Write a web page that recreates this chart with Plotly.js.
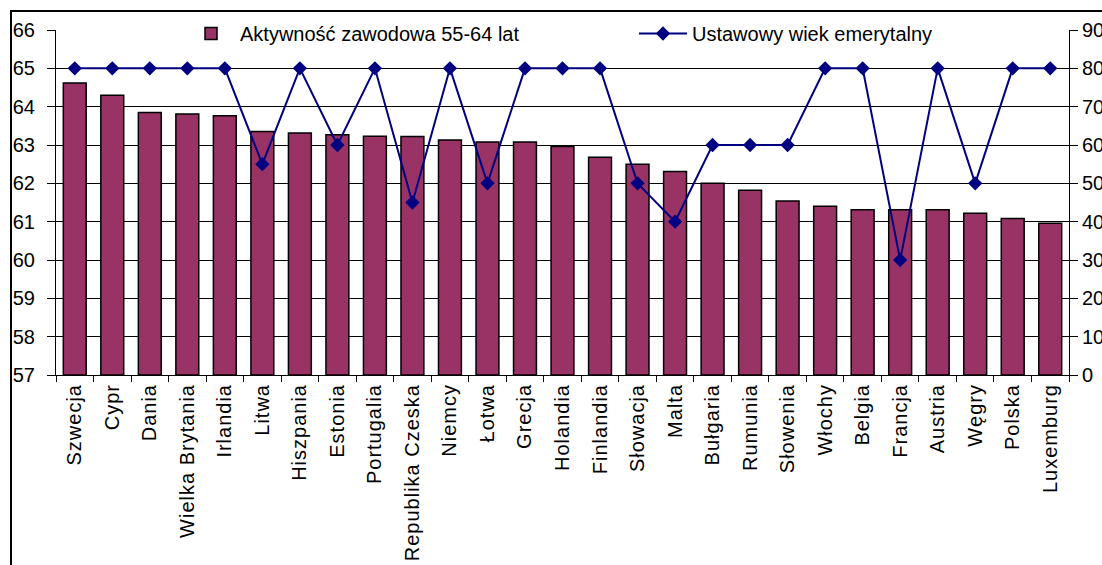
<!DOCTYPE html>
<html><head><meta charset="utf-8">
<script src="https://cdn.plot.ly/plotly-3.0.1.min.js"></script>
<style>body{margin:0;background:#fff}#chart{width:1102px;height:565px}
.xtick text{letter-spacing:1px}</style>
</head><body><div id="chart"></div>
<script>
const countries = ["Szwecja","Cypr","Dania","Wielka Brytania","Irlandia","Litwa","Hiszpania","Estonia","Portugalia","Republika Czeska","Niemcy","Łotwa","Grecja","Holandia","Finlandia","Słowacja","Malta","Bułgaria","Rumunia","Słowenia","Włochy","Belgia","Francja","Austria","Węgry","Polska","Luxemburg"];
// bars read on the left axis (57-66)
const aktywnosc = [64.62,64.30,63.85,63.81,63.76,63.35,63.31,63.27,63.23,63.22,63.13,63.08,63.08,62.96,62.68,62.50,62.31,62.00,61.82,61.54,61.40,61.31,61.31,61.31,61.22,61.08,60.96];
// line read on the right axis (0-90)
const wiekEmerytalny = [80,80,80,80,80,55,80,60,80,45,80,50,80,80,80,50,40,60,60,60,80,80,30,80,50,80,80];
const leftTicks = [57,58,59,60,61,62,63,64,65,66];
const rightTicks = [0,10,20,30,40,50,60,70,80,90];
const leftBase = 57;

const FONT = "Arial, 'Liberation Sans', sans-serif";
const pl = 56, pr = 1069, pt = 30, pb = 375;
const px = v => (v - pl) / (pr - pl);
const py = v => (pb - v) / (pb - pt);

const traces = [
  {type:'bar', x:countries, y:aktywnosc.map(v => v - leftBase), base:leftBase, name:'Aktywność zawodowa 55-64 lat',
   marker:{color:'#993366', line:{color:'#000', width:1.5}}},
  {type:'scatter', mode:'lines+markers', x:countries, y:wiekEmerytalny, yaxis:'y2', name:'Ustawowy wiek emerytalny',
   line:{color:'#000080', width:2}, marker:{symbol:'diamond', size:11, color:'#000080'}}
];

const layout = {
  width:1102, height:565,
  margin:{l:pl, r:1102-pr, t:pt, b:565-pb, autoexpand:false},
  paper_bgcolor:'#fff', plot_bgcolor:'#fff',
  font:{family:FONT, size:20, color:'#000'},
  bargap:0.39,
  showlegend:true,
  legend:{orientation:'h', x:px(182), xanchor:'left', y:py(14), yanchor:'top',
    bgcolor:'rgba(255,255,255,0)', font:{size:20, family:FONT}, entrywidth:389, entrywidthmode:'pixels',
    itemwidth:48, traceorder:'normal'},
  xaxis:{type:'category', tickangle:-90, ticks:'outside', ticklen:6, tickcolor:'#000', automargin:false,
    tickson:'boundaries', showline:true, linecolor:'#000', linewidth:1,
    tickfont:{size:20, family:FONT}, showgrid:false, range:[-0.5,26.5], fixedrange:true},
  yaxis:{range:[57,66], tickvals:leftTicks, ticktext:leftTicks.map(String), ticks:'outside', ticklen:8,
    tickcolor:'#000', showline:true, linecolor:'#000', linewidth:1, showgrid:true, automargin:false,
    gridcolor:'#000', gridwidth:1, zeroline:false, tickfont:{size:20, family:FONT}, ticklabelstandoff:8},
  yaxis2:{range:[0,90], tickvals:rightTicks, ticktext:rightTicks.map(String), overlaying:'y', side:'right',
    ticks:'outside', ticklen:8, tickcolor:'#000', showline:true, linecolor:'#000', linewidth:1, automargin:false,
    showgrid:false, zeroline:false, tickfont:{size:20, family:FONT}},
  shapes:[
    {type:'rect', xref:'paper', yref:'paper', x0:px(133), x1:px(995), y0:py(44), y1:py(18),
     line:{width:0}, fillcolor:'#fff', layer:'above'},
    {type:'rect', xref:'paper', yref:'paper', x0:px(11), x1:px(1120), y0:py(600), y1:py(11),
     line:{color:'#000', width:2}, fillcolor:'rgba(0,0,0,0)', layer:'above'}
  ]
};
Plotly.newPlot('chart', traces, layout, {displayModeBar:false, staticPlot:true});
</script>
</body></html>
